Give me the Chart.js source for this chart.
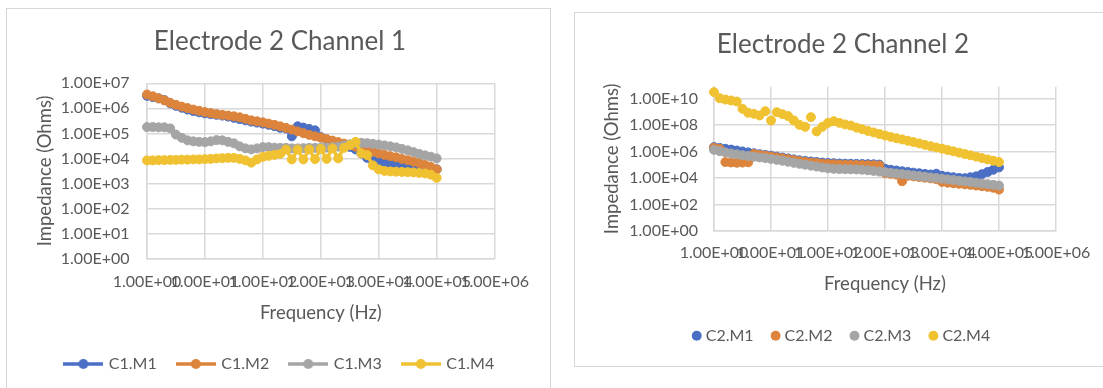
<!DOCTYPE html>
<html>
<head>
<meta charset="utf-8">
<title>Electrode 2 impedance</title>
<script src="https://cdn.jsdelivr.net/npm/chart.js@4.4.1/dist/chart.umd.min.js"></script>
<style>
  html, body { margin: 0; padding: 0; background: #ffffff; width: 1103px; height: 388px; overflow: hidden; }
  .panel { position: absolute; border: 1px solid #d6d6d6; box-sizing: border-box; }
  canvas { position: absolute; }
</style>
</head>
<body>
<div class="panel" style="left:6px; top:8px; width:545px; height:400px;"></div>
<div class="panel" style="left:574px; top:12px; width:540px; height:355px;"></div>
<canvas id="channel1" width="560" height="388" style="left:0; top:0;"></canvas>
<canvas id="channel2" width="540" height="388" style="left:573px; top:0;"></canvas>
<script>
// Sweep frequencies (Hz), ten per decade
const frequencyHz = [1, 1.259, 1.585, 1.995, 2.512, 3.162, 3.981, 5.012, 6.310, 7.943,
  10, 12.59, 15.85, 19.95, 25.12, 31.62, 39.81, 50.12, 63.10, 79.43,
  100, 125.9, 158.5, 199.5, 251.2, 316.2, 398.1, 501.2, 631.0, 794.3,
  1000, 1259, 1585, 1995, 2512, 3162, 3981, 5012, 6310, 7943,
  10000, 12589, 15849, 19953, 25119, 31623, 39811, 50119, 63096, 79433, 100000];

// Axis ticks
const xTickValues = [1, 10, 100, 1000, 10000, 100000, 1000000];
const xTickLabels = ['1.00E+00', '1.00E+01', '1.00E+02', '1.00E+03', '1.00E+04', '1.00E+05', '1.00E+06'];
const yTickValuesCh1 = [1, 10, 100, 1000, 10000, 100000, 1000000, 10000000];
const yTickLabelsCh1 = ['1.00E+00', '1.00E+01', '1.00E+02', '1.00E+03', '1.00E+04', '1.00E+05', '1.00E+06', '1.00E+07'];
const yTickValuesCh2 = [1, 1e2, 1e4, 1e6, 1e8, 1e10];
const yTickLabelsCh2 = ['1.00E+00', '1.00E+02', '1.00E+04', '1.00E+06', '1.00E+08', '1.00E+10'];

// Series names
const seriesNamesCh1 = ['C1.M1', 'C1.M2', 'C1.M3', 'C1.M4'];
const seriesNamesCh2 = ['C2.M1', 'C2.M2', 'C2.M3', 'C2.M4'];

// Channel 1 impedance (Ohms)
const c1m1 = [3.16e6, 2.82e6, 2.51e6, 2.14e6, 1.58e6, 1.26e6, 1.05e6, 8.91e5, 7.76e5, 6.92e5,
  6.31e5, 5.89e5, 5.50e5, 5.13e5, 4.68e5, 4.17e5, 3.72e5, 3.31e5, 2.95e5, 2.69e5,
  2.45e5, 2.19e5, 1.95e5, 1.66e5, 1.55e5, 7.59e4, 1.91e5, 1.70e5, 1.51e5, 1.32e5,
  7.08e4, 5.50e4, 4.68e4, 3.98e4, 3.39e4, 2.88e4, 2.29e4, 1.58e4, 1.05e4, 8.32e3,
  7.24e3, 6.61e3, 6.17e3, 5.75e3, 5.37e3, 5.01e3, 4.79e3, 4.57e3, 4.27e3, 3.98e3, 3.63e3];
const c1m2 = [3.55e6, 3.02e6, 2.51e6, 2.09e6, 1.66e6, 1.38e6, 1.17e6, 1.02e6, 8.91e5, 7.94e5,
  7.08e5, 6.46e5, 5.89e5, 5.50e5, 5.13e5, 4.79e5, 4.37e5, 3.80e5, 3.31e5, 3.02e5,
  2.75e5, 2.45e5, 2.19e5, 1.91e5, 1.66e5, 1.41e5, 1.20e5, 1.02e5, 8.71e4, 7.59e4,
  6.76e4, 5.89e4, 5.13e4, 4.47e4, 3.89e4, 3.39e4, 2.95e4, 2.51e4, 2.14e4, 1.86e4,
  1.58e4, 1.38e4, 1.23e4, 1.10e4, 9.55e3, 8.51e3, 7.41e3, 6.46e3, 5.50e3, 4.57e3, 3.63e3];
const c1m3 = [1.78e5, 1.78e5, 1.74e5, 1.74e5, 1.58e5, 8.91e4, 6.61e4, 5.25e4, 4.79e4, 4.57e4,
  4.47e4, 4.79e4, 5.37e4, 5.25e4, 4.57e4, 3.98e4, 3.02e4, 2.51e4, 2.29e4, 2.51e4,
  2.82e4, 2.82e4, 2.69e4, 2.63e4, 2.63e4, 2.51e4, 2.51e4, 2.57e4, 2.63e4, 2.63e4,
  2.63e4, 2.69e4, 2.82e4, 2.95e4, 3.31e4, 3.63e4, 3.98e4, 4.17e4, 4.07e4, 3.80e4,
  3.55e4, 3.31e4, 3.02e4, 2.75e4, 2.40e4, 2.09e4, 1.78e4, 1.51e4, 1.32e4, 1.17e4, 1.00e4];
const c1m4 = [8.32e3, 8.32e3, 8.51e3, 8.51e3, 8.71e3, 8.71e3, 8.91e3, 8.91e3, 9.12e3, 9.12e3,
  9.33e3, 9.55e3, 1.00e4, 1.02e4, 1.05e4, 1.05e4, 9.55e3, 8.32e3, 6.76e3, 9.12e3,
  1.15e4, 1.26e4, 1.38e4, 1.51e4, 2.24e4, 9.12e3, 2.24e4, 9.12e3, 2.29e4, 9.33e3,
  2.40e4, 9.55e3, 2.51e4, 1.00e4, 2.63e4, 3.39e4, 4.57e4, 1.58e4, 1.35e4, 5.25e3,
  3.63e3, 3.16e3, 3.02e3, 2.95e3, 2.88e3, 2.82e3, 2.75e3, 2.63e3, 2.51e3, 2.24e3, 1.66e3];

// Channel 2 impedance (Ohms)
const c2m1 = [2.14e6, 1.86e6, 1.58e6, 1.38e6, 1.17e6, 1.00e6, 8.51e5, 7.24e5, 6.17e5, 5.37e5,
  4.79e5, 4.07e5, 3.47e5, 2.95e5, 2.51e5, 2.14e5, 1.91e5, 1.74e5, 1.58e5, 1.45e5,
  1.35e5, 1.29e5, 1.23e5, 1.20e5, 1.17e5, 1.15e5, 1.12e5, 1.10e5, 1.07e5, 1.02e5,
  5.01e4, 4.17e4, 3.63e4, 3.16e4, 2.82e4, 2.51e4, 2.24e4, 2.00e4, 1.82e4, 2.09e4,
  1.45e4, 1.26e4, 1.12e4, 1.00e4, 9.55e3, 1.12e4, 1.32e4, 1.91e4, 2.82e4, 4.17e4, 6.31e4];
const c2m2 = [1.91e6, 1.58e6, 1.58e5, 1.48e5, 1.41e5, 1.45e5, 1.51e5, 6.31e5, 5.50e5, 4.79e5,
  4.17e5, 3.55e5, 3.02e5, 2.57e5, 2.19e5, 1.86e5, 1.62e5, 1.45e5, 1.32e5, 1.20e5,
  1.12e5, 1.07e5, 1.02e5, 1.00e5, 9.77e4, 9.55e4, 9.33e4, 9.12e4, 8.91e4, 8.71e4,
  2.29e4, 2.04e4, 1.78e4, 5.62e3, 1.45e4, 1.32e4, 1.17e4, 1.05e4, 9.33e3, 7.94e3,
  5.01e3, 4.37e3, 3.98e3, 3.63e3, 3.31e3, 3.02e3, 2.69e3, 2.40e3, 2.14e3, 1.82e3, 1.32e3];
const c2m3 = [1.32e6, 1.05e6, 8.51e5, 7.08e5, 6.03e5, 5.25e5, 4.57e5, 3.98e5, 3.55e5, 3.16e5,
  2.75e5, 2.34e5, 2.00e5, 1.66e5, 1.38e5, 1.17e5, 1.00e5, 8.51e4, 7.24e4, 6.17e4,
  5.37e4, 4.90e4, 4.68e4, 4.57e4, 4.47e4, 4.37e4, 4.17e4, 3.80e4, 3.39e4, 3.02e4,
  2.75e4, 2.45e4, 2.19e4, 1.95e4, 1.74e4, 1.55e4, 1.38e4, 1.23e4, 1.10e4, 9.77e3,
  8.71e3, 7.76e3, 6.92e3, 6.17e3, 5.50e3, 4.90e3, 4.27e3, 3.80e3, 3.39e3, 3.02e3, 2.63e3];
const c2m4 = [3.02e10, 1.05e10, 8.32e9, 7.08e9, 5.89e9, 1.66e9, 8.32e8, 6.92e8, 5.25e8, 1.10e9,
  2.19e8, 9.33e8, 6.61e8, 4.68e8, 2.19e8, 1.02e8, 7.24e7, 3.89e8, 3.24e7, 7.24e7,
  1.45e8, 1.95e8, 1.45e8, 1.10e8, 9.12e7, 6.31e7, 4.79e7, 3.55e7, 2.75e7, 2.09e7,
  1.62e7, 1.26e7, 1.00e7, 8.13e6, 6.46e6, 5.13e6, 4.07e6, 3.16e6, 2.51e6, 2.00e6,
  1.62e6, 1.29e6, 1.02e6, 8.13e5, 6.46e5, 5.13e5, 4.07e5, 3.16e5, 2.51e5, 2.00e5, 1.58e5];

const seriesColors = ['#4a6fc4', '#dd843c', '#a5a5a5', '#f0c232'];
const TEXT = '#595959';
const GRID = '#d9d9d9';
const FONT = 'Lato';

// Legend swatch: short line with a round marker in the middle
function lineMarkerIcon(color) {
  const c = document.createElement('canvas');
  c.width = 40; c.height = 12;
  const g = c.getContext('2d');
  g.strokeStyle = color; g.lineWidth = 3.5;
  g.beginPath(); g.moveTo(0, 6); g.lineTo(40, 6); g.stroke();
  g.fillStyle = color;
  g.beginPath(); g.arc(20, 6, 5, 0, Math.PI * 2); g.fill();
  return c;
}

function fixedTicks(values) {
  return function (scale) { scale.ticks = values.map(v => ({ value: v })); };
}

function buildChart(canvasId, cfg) {
  const datasets = cfg.series.map((vals, i) => ({
    label: cfg.names[i],
    data: frequencyHz.map((f, k) => ({ x: f, y: vals[k] })),
    borderColor: seriesColors[i],
    backgroundColor: seriesColors[i],
    pointBackgroundColor: seriesColors[i],
    pointBorderColor: seriesColors[i],
    pointRadius: 4.5,
    pointHoverRadius: 4.5,
    pointBorderWidth: 1,
    borderWidth: 3.5,
    showLine: cfg.showLine,
    order: cfg.series.length - i,
    clip: false
  }));

  const legendLabels = {
    usePointStyle: true,
    padding: cfg.legendPad,
    color: TEXT,
    font: { family: FONT, size: 16 },
    generateLabels: chart => chart.data.datasets.map((ds, i) => ({
      text: ds.label,
      datasetIndex: i,
      hidden: false,
      fillStyle: ds.backgroundColor,
      strokeStyle: ds.borderColor,
      lineWidth: 0,
      fontColor: TEXT,
      pointStyle: cfg.showLine ? lineMarkerIcon(ds.borderColor) : 'circle'
    }))
  };
  if (cfg.showLine) {
    legendLabels.pointStyleWidth = 35;
  } else {
    legendLabels.boxWidth = 2;
    legendLabels.boxHeight = 7;
  }

  return new Chart(document.getElementById(canvasId), {
    type: 'scatter',
    data: { datasets },
    options: {
      responsive: false,
      animation: false,
      devicePixelRatio: 1,
      events: [],
      layout: { padding: { left: 0, right: 0, top: 0, bottom: cfg.padBottom } },
      plugins: {
        title: {
          display: true,
          text: cfg.title,
          color: TEXT,
          font: { family: FONT, size: 26, weight: 'normal' },
          padding: { top: cfg.titlePadTop, bottom: cfg.titlePadBottom }
        },
        legend: { position: 'bottom', labels: legendLabels },
        tooltip: { enabled: false }
      },
      scales: {
        x: {
          type: 'logarithmic',
          min: 1,
          max: 1000000,
          afterBuildTicks: fixedTicks(xTickValues),
          afterFit: s => { s.height = cfg.xAxisHeight; },
          ticks: {
            autoSkip: false, maxRotation: 0, minRotation: 0,
            padding: cfg.xTickPad, color: TEXT,
            font: { family: FONT, size: 16 },
            callback: (v, i) => xTickLabels[i]
          },
          grid: { color: GRID, lineWidth: 1.5, drawTicks: false },
          border: { color: GRID, width: 1.5 },
          title: {
            display: true, text: 'Frequency (Hz)', color: TEXT,
            font: { family: FONT, size: 18.5 },
            padding: { top: 0, bottom: cfg.xTitlePad }
          }
        },
        y: {
          type: 'logarithmic',
          min: 1,
          max: cfg.yMax,
          afterBuildTicks: fixedTicks(cfg.yTicks),
          afterFit: s => { s.width = cfg.yAxisWidth; },
          ticks: {
            padding: cfg.yTickPad, color: TEXT,
            font: { family: FONT, size: 16 },
            callback: (v, i) => cfg.yLabels[i]
          },
          grid: { color: GRID, lineWidth: 1.5, drawTicks: false },
          border: { color: GRID, width: 1.5 },
          title: {
            display: true, text: 'Impedance (Ohms)', color: TEXT,
            font: { family: FONT, size: 18.5 },
            padding: { top: cfg.yTitlePad, bottom: 0 }
          }
        },
        rightGap: {
          type: 'linear',
          position: 'right',
          display: true,
          grid: { display: false },
          border: { display: false },
          ticks: { display: false },
          afterFit: s => { s.width = cfg.rightGap; }
        }
      }
    }
  });
}

buildChart('channel1', {
  title: 'Electrode 2 Channel 1',
  names: seriesNamesCh1,
  series: [c1m1, c1m2, c1m3, c1m4],
  showLine: true,
  yMax: 10000000,
  yTicks: yTickValuesCh1,
  yLabels: yTickLabelsCh1,
  titlePadTop: 26.1, titlePadBottom: 26.0,
  yAxisWidth: 147, yTickPad: 17.5, yTitlePad: 33.9,
  rightGap: 65.4,
  legendPad: 21.6, padBottom: 6,
  xAxisHeight: 75.9, xTickPad: 13.6, xTitlePad: 10.0
});

buildChart('channel2', {
  title: 'Electrode 2 Channel 2',
  names: seriesNamesCh2,
  series: [c2m1, c2m2, c2m3, c2m4],
  showLine: false,
  yMax: 7.8e10,
  yTicks: yTickValuesCh2,
  yLabels: yTickLabelsCh2,
  titlePadTop: 29.4, titlePadBottom: 26.1,
  yAxisWidth: 141, yTickPad: 16, yTitlePad: 27.9,
  rightGap: 57,
  legendPad: 21, padBottom: 34.3,
  xAxisHeight: 75.8, xTickPad: 12.8, xTitlePad: 11.6
});
</script>
</body>
</html>
